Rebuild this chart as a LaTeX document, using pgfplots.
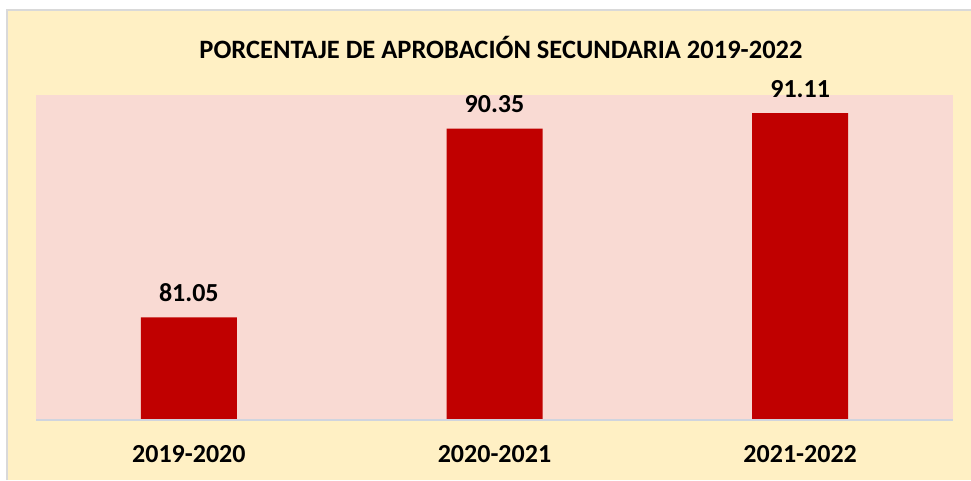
\documentclass[border=0pt]{standalone}
\usepackage{pgfplots}
\pgfplotsset{compat=1.18}
\usepackage{fontspec}
\setmainfont{Carlito}
\definecolor{bgY}{HTML}{FFF0C4}
\definecolor{plotP}{HTML}{F9DAD3}
\definecolor{barR}{HTML}{C00000}
\definecolor{brd}{HTML}{D9D9D9}
\definecolor{axl}{HTML}{D0D4DE}
\begin{document}
\begin{tikzpicture}[x=1pt,y=1pt]
\path[use as bounding box] (0,0) rectangle (971,480);
\fill[white] (0,0) rectangle (971,480);
\fill[bgY] (7,0) rectangle (971,470);
\draw[brd,line width=2pt] (7,0) -- (7,470) -- (971,470);
\node[font=\bfseries\fontsize{26.5}{30}\selectfont] at (501,433) {PORCENTAJE DE APROBACIÓN SECUNDARIA 2019-2022};
\begin{axis}[
  at={(36pt,60pt)}, anchor=south west,
  scale only axis, width=917pt, height=325pt,
  xmin=-0.5, xmax=2.5, ymin=76, ymax=92,
  axis background/.style={fill=plotP},
  axis line style={draw=none},
  axis x line*=bottom,
  ytick=\empty,
  xtick={0,1,2}, xticklabels={2019-2020,2020-2021,2021-2022},
  major tick length=0pt,
  xticklabel style={font=\bfseries\fontsize{26}{30}\selectfont, yshift=-22pt},
  ybar, bar width=96pt,
  nodes near coords,
  every node near coord/.append style={font=\bfseries\fontsize{26}{30}\selectfont, black, yshift=12pt},
  /pgf/number format/.cd, fixed, fixed zerofill, precision=2, assume math mode=true,
]
\addplot[fill=barR, draw=none] coordinates {(0,81.05) (1,90.35) (2,91.11)};
\draw[axl, line width=1.5pt] (axis cs:-0.5,76) -- (axis cs:2.5,76);
\end{axis}
\end{tikzpicture}
\end{document}
